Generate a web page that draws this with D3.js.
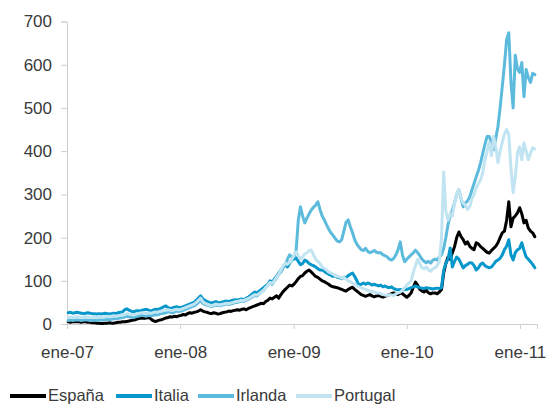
<!DOCTYPE html>
<html>
<head>
<meta charset="utf-8">
<script src="https://cdn.jsdelivr.net/npm/d3@7"></script>
<style>
  body { margin: 0; background: #fff; }
  svg { display: block; font-family: "Liberation Sans", Arial, sans-serif; }
</style>
</head>
<body>
<svg id="chart" width="550" height="405"></svg>
<script>
// Weekly 10-year spreads vs. the German Bund (basis points), one value per week
const firstWeek = "2007-01-05";
const seriesNames = ["España", "Italia", "Irlanda", "Portugal"];

const espana = [
  5,4,5,5,6,5,4,5,5,4,4,3,3,
  2,2,1,1,2,2,3,2,2,3,4,4,5,
  5,6,7,8,9,10,12,13,14,13,14,15,12,
  8,6,7,9,10,12,14,15,17,16,18,17,19,
  20,22,21,24,26,25,27,28,30,33,30,28,27,
  25,24,26,25,23,24,26,27,28,30,29,31,32,
  33,32,34,35,33,36,38,40,42,44,46,48,47,
  52,55,60,58,62,65,60,68,75,80,85,90,88,
  92,98,105,110,112,118,122,125,120,115,110,108,104,
  100,98,95,92,88,86,85,84,82,80,78,76,80,
  83,85,80,76,72,68,66,64,66,68,65,63,65,
  66,64,62,64,66,68,70,72,70,68,72,70,66,
  62,66,72,85,97,90,80,76,74,78,72,70,72,
  72,70,74,80,118,140,155,150,165,179,200,213,202,
  195,185,190,180,175,172,188,185,179,175,170,166,164,
  170,175,180,188,200,211,215,240,283,225,245,250,257,
  269,255,234,240,222,215,211,202
];

const italia = [
  26,27,25,26,27,26,25,24,25,26,25,24,24,
  23,24,23,24,25,24,23,24,25,24,26,27,28,
  33,35,32,30,28,30,31,30,32,33,34,32,30,
  32,34,33,35,37,40,42,38,36,37,39,40,38,
  38,40,42,44,46,48,50,55,60,65,58,55,52,
  50,48,50,52,50,49,51,52,53,52,54,55,56,
  55,57,58,56,60,62,66,70,74,72,76,80,84,
  88,92,100,97,104,110,118,125,132,138,132,140,148,
  150,153,145,137,140,148,145,140,137,135,132,128,125,
  125,122,118,115,113,110,112,108,107,105,108,107,112,
  115,118,110,100,90,92,95,92,95,93,90,92,90,
  88,90,86,88,85,84,86,82,80,79,80,78,80,
  80,82,84,86,88,86,84,83,82,84,83,82,81,
  82,83,82,84,125,140,150,176,132,145,155,150,140,
  130,135,138,142,141,135,125,130,138,141,135,132,130,
  132,138,145,148,152,160,172,180,195,160,148,165,172,
  175,188,170,155,150,144,138,130
];

const irlanda = [
  8,9,8,9,10,9,8,9,10,9,8,8,9,
  8,9,10,9,10,11,10,11,12,12,13,14,15,
  16,18,17,16,15,17,18,19,20,19,18,20,19,
  20,22,21,23,24,25,26,28,27,26,28,30,29,
  30,32,34,36,38,40,42,45,50,55,48,45,44,
  42,40,42,44,43,42,44,45,46,45,47,48,50,
  50,52,53,52,55,57,60,63,66,65,70,74,78,
  85,90,96,92,100,106,115,120,130,136,150,160,155,
  155,170,240,271,250,234,245,255,264,270,275,283,265,
  250,241,230,220,211,205,198,192,190,195,215,235,241,
  225,211,195,185,178,172,170,175,168,165,167,170,166,
  165,165,160,158,155,150,148,152,160,172,190,160,144,
  150,155,160,165,171,165,158,150,145,142,145,141,148,
  150,148,155,160,175,200,230,250,264,280,300,311,290,
  271,280,285,294,310,325,341,355,373,395,415,434,434,
  420,403,430,457,500,550,600,658,674,560,500,622,590,
  582,605,526,589,570,559,580,577
];

const portugal = [
  15,16,15,16,17,16,15,16,17,16,15,15,16,
  15,16,17,16,17,18,17,18,19,18,19,20,20,
  22,24,23,22,21,22,24,25,26,25,24,26,25,
  26,28,27,29,30,31,32,33,32,31,33,34,33,
  34,36,38,40,42,44,46,50,55,60,52,48,46,
  44,42,44,46,45,44,46,47,48,47,49,50,52,
  52,54,55,54,57,59,62,65,68,67,70,74,78,
  84,90,96,94,100,108,115,125,135,141,138,142,148,
  160,167,158,150,155,162,165,170,171,160,150,145,140,
  132,128,125,120,118,115,112,110,109,106,108,104,100,
  98,95,92,88,86,84,82,80,78,76,75,74,72,
  72,70,68,67,66,68,67,66,70,72,74,78,84,
  90,95,100,120,135,150,140,130,128,132,125,122,128,
  130,135,145,200,352,260,240,255,250,280,300,311,290,
  280,275,265,271,290,300,315,325,334,350,380,400,420,
  390,434,410,373,400,420,440,450,438,360,304,340,396,
  410,380,419,400,380,395,408,405
];

const yTicks = [0, 100, 200, 300, 400, 500, 600, 700];
const xTickDates = ["2007-01-01", "2008-01-01", "2009-01-01", "2010-01-01", "2011-01-01"];
const xTickLabels = ["ene-07", "ene-08", "ene-09", "ene-10", "ene-11"];

// ---- drawing ----
const colors = ["#000000", "#0797ca", "#5cbadd", "#c0e4f1"];
const parse = d3.utcParse("%Y-%m-%d");
const start = parse(firstWeek);
const weekDates = espana.map((_, i) => d3.utcDay.offset(start, 7 * i));
const allSeries = [espana, italia, irlanda, portugal];

const svg = d3.select("#chart");
const x = d3.scaleUtc()
  .domain([parse("2007-01-01"), parse("2011-02-25")])
  .range([67, 537]);
const y = d3.scaleLinear().domain([0, 700]).range([324, 21.5]);

const axisColor = "#cfcfcf";
const textColor = "#3a3a3a";

// y axis
const gy = svg.append("g")
  .attr("transform", "translate(67,0)")
  .call(d3.axisLeft(y).tickValues(yTicks).tickSize(6).tickPadding(9).tickFormat(d3.format("d")));
gy.select(".domain").attr("stroke", axisColor);
gy.selectAll(".tick line").attr("stroke", axisColor);
gy.selectAll(".tick text").attr("fill", textColor).style("font-size", "17px")
  .style("font-family", '"Liberation Sans", Arial, sans-serif');

// x axis
const gx = svg.append("g")
  .attr("transform", "translate(0,324)")
  .call(d3.axisBottom(x).tickValues(xTickDates.map(parse)).tickSize(5).tickPadding(17)
    .tickFormat((d, i) => xTickLabels[i]));
gx.select(".domain").attr("stroke", axisColor);
gx.selectAll(".tick line").attr("stroke", axisColor);
gx.selectAll(".tick text").attr("fill", textColor).style("font-size", "17px")
  .style("font-family", '"Liberation Sans", Arial, sans-serif');

// series lines
const line = d3.line()
  .x((d, i) => x(weekDates[i]))
  .y(d => y(d));

allSeries.forEach((vals, k) => {
  svg.append("path")
    .datum(vals)
    .attr("fill", "none")
    .attr("stroke", colors[k])
    .attr("stroke-width", 3)
    .attr("stroke-linejoin", "round")
    .attr("stroke-linecap", "round")
    .attr("d", line);
});

// legend
const legendX = [10, 116, 198, 296];
const legend = svg.append("g");
seriesNames.forEach((name, k) => {
  legend.append("line")
    .attr("x1", legendX[k]).attr("x2", legendX[k] + 36)
    .attr("y1", 396).attr("y2", 396)
    .attr("stroke", colors[k]).attr("stroke-width", 4);
  legend.append("text")
    .attr("x", legendX[k] + 38).attr("y", 401)
    .attr("fill", textColor)
    .style("font-size", "16.5px")
    .text(name);
});
</script>
</body>
</html>
